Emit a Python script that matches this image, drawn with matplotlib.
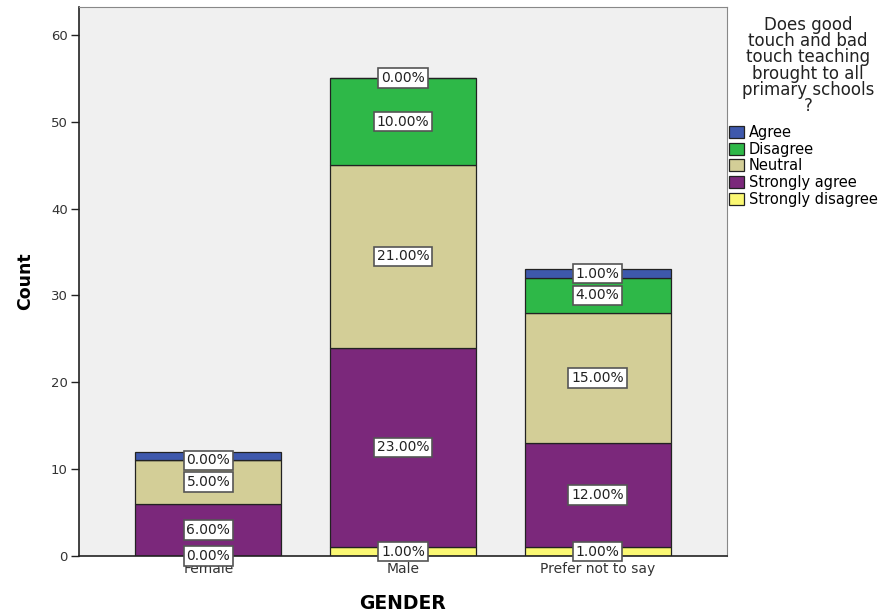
import matplotlib
matplotlib.use("Agg")
import matplotlib.pyplot as plt
import numpy as np
from matplotlib.patches import Patch

plt.rcParams['font.family'] = ['DejaVu Sans']

genders = ["Female", "Male", "Prefer not to say"]
# stack order bottom -> top
responses = ["Strongly disagree", "Strongly agree", "Neutral", "Disagree", "Agree"]
counts = {
    "Strongly disagree": [0, 1, 1],
    "Strongly agree": [6, 23, 12],
    "Neutral": [5, 21, 15],
    "Disagree": [0, 10, 4],
    "Agree": [1, 0, 1],
}
labels = {
    "Strongly disagree": ["0.00%", "1.00%", "1.00%"],
    "Strongly agree": ["6.00%", "23.00%", "12.00%"],
    "Neutral": ["5.00%", "21.00%", "15.00%"],
    "Disagree": ["0.00%", "10.00%", "4.00%"],
    "Agree": [None, "0.00%", "1.00%"],
}
colors = {
    "Agree": "#3E58AC",
    "Disagree": "#2EB848",
    "Neutral": "#D3CE97",
    "Strongly agree": "#7B287B",
    "Strongly disagree": "#FBF873",
}
legend_order = ["Agree", "Disagree", "Neutral", "Strongly agree", "Strongly disagree"]

fig = plt.figure(figsize=(8.87, 6.15), dpi=100)
ax = fig.add_axes([0.089, 0.0959, 0.7306, 0.8927])
ax.set_facecolor("#F0F0F0")

x = np.arange(len(genders))
bottom = np.zeros(len(genders))
for r in responses:
    vals = np.array(counts[r], dtype=float)
    ax.bar(x, vals, width=0.75, bottom=bottom, color=colors[r],
           edgecolor="#222222", linewidth=0.9, zorder=2)
    for i, lab in enumerate(labels[r]):
        if lab is None:
            continue
        ax.text(x[i], bottom[i] + vals[i] / 2, lab, ha="center", va="center",
                fontsize=10, color="#222222", zorder=4,
                bbox=dict(boxstyle="square,pad=0.2", fc="white", ec="#555555", lw=1.2))
    bottom += vals

ax.set_xlim(-0.665, 2.665)
ax.set_ylim(0, 63.2)
ax.set_yticks([0, 10, 20, 30, 40, 50, 60])
ax.set_xticks(x)
ax.set_xticklabels(genders)
ax.tick_params(axis="y", length=6, width=1, color="#222222", labelsize=9.5, labelcolor="#333333", pad=2)
ax.tick_params(axis="x", length=3, width=1, color="#222222", labelsize=10, labelcolor="#333333", pad=1)
for side in ["top", "right"]:
    ax.spines[side].set_color("#888888")
for side in ["left", "bottom"]:
    ax.spines[side].set_color("#222222")
    ax.spines[side].set_linewidth(1.2)

ax.set_ylabel("Count", fontsize=12.5, fontweight="bold", labelpad=12)
ax.set_xlabel("GENDER", fontsize=13.5, fontweight="bold", labelpad=13)

fig.text(0.911, 0.974, "Does good\ntouch and bad\ntouch teaching\nbrought to all\nprimary schools\n?",
         ha="center", va="top", fontsize=12, color="#222222", linespacing=0.87)

handles = [Patch(facecolor=colors[r], edgecolor="#222222", lw=0.9) for r in legend_order]
fig.legend(handles, legend_order, loc="upper left", bbox_to_anchor=(0.822, 0.797),
           frameon=False, fontsize=10.5, handlelength=1.05, handleheight=0.9,
           handletextpad=0.3, labelspacing=0.12, borderaxespad=0, borderpad=0)

fig.savefig("out.png", dpi=100)
